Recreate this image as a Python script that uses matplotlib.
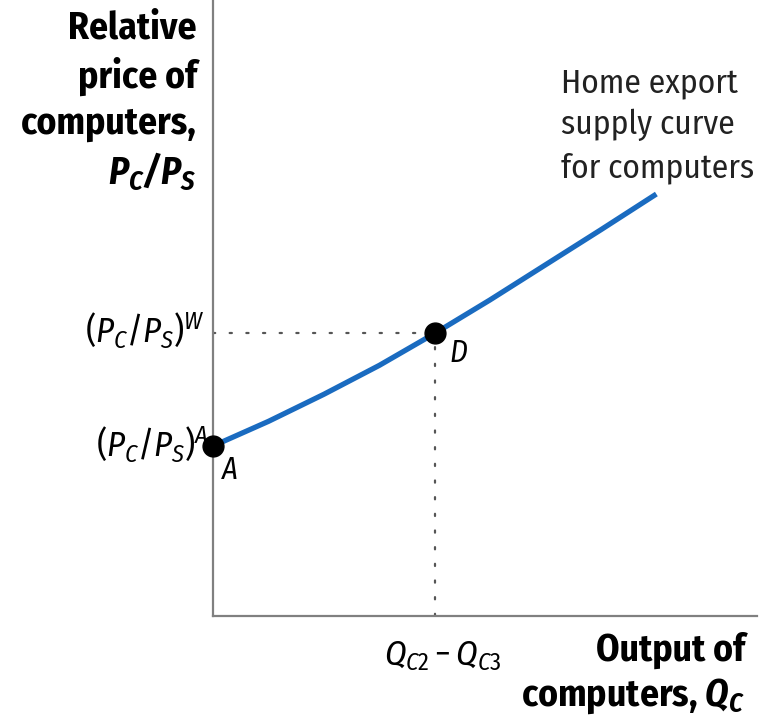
import matplotlib
matplotlib.use("Agg")
import matplotlib.pyplot as plt

FACE = "Fira Sans Condensed"
plt.rcParams["font.family"] = [FACE, "DejaVu Sans"]
plt.rcParams["mathtext.fontset"] = "custom"
plt.rcParams["mathtext.rm"] = FACE
plt.rcParams["mathtext.it"] = FACE + ":italic"
plt.rcParams["mathtext.bf"] = FACE + ":italic:bold"

# Home export supply curve (output of computers vs relative price)
curve_x = [0.00, 1.02, 2.04, 3.06, 4.08, 5.09, 6.11, 7.13, 8.15]
curve_y = [2.76, 3.16, 3.60, 4.07, 4.59, 5.13, 5.70, 6.27, 6.85]

# Labelled points
point_names = ["A", "D"]
point_x = [0.00, 4.08]
point_y = [2.76, 4.59]

price_labels = [r"$(P_C/P_S)^A$", r"$(P_C/P_S)^W$"]
qty_label = r"$Q_{C2} - Q_{C3}$"

W, H = 769, 721
fig = plt.figure(figsize=(W / 100, H / 100), dpi=100)
ax = fig.add_axes([213 / W, (H - 616) / H, (757 - 213) / W, 616 / H])
ax.set_xlim(0, 10)
ax.set_ylim(0, 10)
for s in ("top", "right"):
    ax.spines[s].set_visible(False)
for s in ("left", "bottom"):
    ax.spines[s].set_color("#808080")
    ax.spines[s].set_linewidth(1.6)
ax.set_xticks([])
ax.set_yticks([])

# Dotted guides to the trading point D
dot = dict(color="#555555", lw=1.6, linestyle=(0, (1, 6.5)),
           dash_capstyle="round", zorder=1)
ax.plot([0, point_x[1]], [point_y[1], point_y[1]], **dot)
ax.plot([point_x[1], point_x[1]], [0, point_y[1]], **dot)

ax.plot(curve_x, curve_y, color="#1a6bc0", lw=3.8, solid_capstyle="butt",
        solid_joinstyle="round", zorder=2)
ax.plot(point_x, point_y, "o", color="black", ms=15, zorder=3, clip_on=False)

# Point names
ax.annotate(point_names[0], (point_x[0], point_y[0]), xytext=(17, -24),
            textcoords="offset pixels", fontsize=22, style="italic", ha="center", va="center")
ax.annotate(point_names[1], (point_x[1], point_y[1]), xytext=(23, -20),
            textcoords="offset pixels", fontsize=22, style="italic", ha="center", va="center")

# Axis value labels
ax.annotate(price_labels[0], (0, point_y[0]), xytext=(-5, 2), textcoords="offset pixels",
            fontsize=25, ha="right", va="center", annotation_clip=False)
ax.annotate(price_labels[1], (0, point_y[1]), xytext=(-8, 3), textcoords="offset pixels",
            fontsize=25, ha="right", va="center", annotation_clip=False)
ax.annotate(qty_label, (point_x[1], 0), xytext=(8, -40), textcoords="offset pixels",
            fontsize=25, ha="center", va="center", annotation_clip=False)

# Axis titles
fig.text(197 / W, 1 - 10 / H, "Relative\nprice of\ncomputers,\n" + r"$\mathbf{P_C/P_S}$",
         ha="right", va="top", fontsize=27, fontweight="bold", linespacing=1.3)
fig.text(745 / W, 1 - 632 / H, "Output of\ncomputers, " + r"$\mathbf{Q_C}$",
         ha="right", va="top", fontsize=27, fontweight="bold", linespacing=1.25)

fig.text(561 / W, 1 - 67 / H, "Home export\nsupply curve\nfor computers",
         ha="left", va="top", fontsize=24, color="#222222", linespacing=1.4)

fig.savefig("out.png", dpi=100)
